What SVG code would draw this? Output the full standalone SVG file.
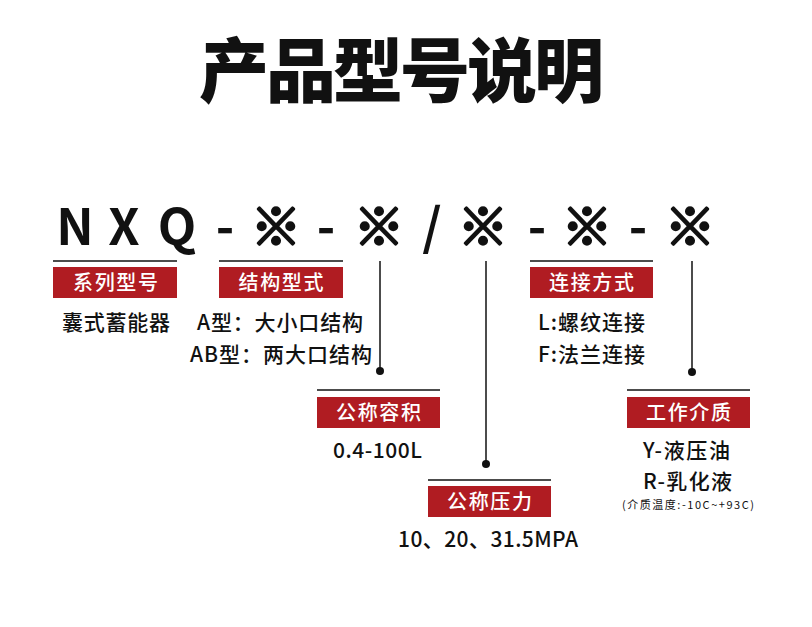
<svg xmlns="http://www.w3.org/2000/svg" width="812" height="627" viewBox="0 0 812 627">
<style>
.t{font-family:"Noto Sans CJK SC","Noto Sans",sans-serif;fill:#111}
.title{font-size:70px;font-weight:900;letter-spacing:-3px}
.code{font-size:50px;font-weight:700;text-anchor:middle}
.mark{font-size:50px;font-weight:900;text-anchor:middle;stroke:#111;stroke-width:2.6px;stroke-linejoin:round}
.lab{font-family:"Noto Sans CJK SC","Noto Sans",sans-serif;font-size:20px;fill:#fff;font-weight:500}
.body{font-size:21px;font-weight:500}
.small{font-size:11px}
.box{fill:#b01c22}
.rule{stroke:#111;stroke-width:1.5}
.conn{stroke:#111;stroke-width:1.5;fill:none}
.dot{fill:#111}
</style>
<rect width="812" height="627" fill="#fff"/>
<text class="t title" x="400" y="97" text-anchor="middle">产品型号说明</text>
<g id="code">
<text class="t code" x="75" y="245">N</text>
<text class="t code" x="124" y="245">X</text>
<text class="t code" x="177" y="245">Q</text>
<text class="t code" x="225" y="245">-</text>
<text class="t mark" x="276" y="245">※</text>
<text class="t code" x="326" y="245">-</text>
<text class="t mark" x="379" y="245">※</text>
<text class="t code" x="432" y="245">/</text>
<text class="t mark" x="483" y="245">※</text>
<text class="t code" x="537" y="245">-</text>
<text class="t mark" x="587" y="245">※</text>
<text class="t code" x="638" y="245">-</text>
<text class="t mark" x="690" y="245">※</text>
</g>
<g id="connectors">
<line class="conn" x1="380" y1="261" x2="380" y2="371"/>
<circle class="dot" cx="380" cy="371" r="4"/>
<line class="conn" x1="486" y1="261" x2="486" y2="464"/>
<circle class="dot" cx="486" cy="464" r="4"/>
<line class="conn" x1="692" y1="261" x2="692" y2="372"/>
<circle class="dot" cx="692" cy="372" r="4"/>
</g>
<g id="series">
<line class="rule" x1="53" y1="261" x2="177" y2="261"/>
<rect class="box" x="53" y="267" width="124" height="31"/>
<text class="lab" x="73" y="290" textLength="85" lengthAdjust="spacing">系列型号</text>
<text class="t body" x="62" y="330" textLength="108" lengthAdjust="spacing">囊式蓄能器</text>
</g>
<g id="structure">
<line class="rule" x1="219" y1="261" x2="343" y2="261"/>
<rect class="box" x="219" y="267" width="124" height="31"/>
<text class="lab" x="238.5" y="290" textLength="85" lengthAdjust="spacing">结构型式</text>
<text class="t body" x="197" y="330" textLength="166" lengthAdjust="spacing">A型：大小口结构</text>
<text class="t body" x="190" y="362" textLength="182" lengthAdjust="spacing">AB型：两大口结构</text>
</g>
<g id="connection">
<line class="rule" x1="530" y1="261" x2="653" y2="261"/>
<rect class="box" x="530" y="267" width="123" height="31"/>
<text class="lab" x="549" y="290" textLength="85" lengthAdjust="spacing">连接方式</text>
<text class="t body" x="538" y="330" textLength="107" lengthAdjust="spacing">L:螺纹连接</text>
<text class="t body" x="538" y="362" textLength="107" lengthAdjust="spacing">F:法兰连接</text>
</g>
<g id="volume">
<line class="rule" x1="317" y1="390" x2="440" y2="390"/>
<rect class="box" x="317" y="397" width="123" height="31"/>
<text class="lab" x="336" y="420" textLength="85" lengthAdjust="spacing">公称容积</text>
<text class="t body" x="333" y="458" textLength="89" lengthAdjust="spacing">0.4-100L</text>
</g>
<g id="pressure">
<line class="rule" x1="428" y1="480" x2="551" y2="480"/>
<rect class="box" x="428" y="486" width="123" height="31"/>
<text class="lab" x="447" y="509" textLength="85" lengthAdjust="spacing">公称压力</text>
<text class="t body" x="398" y="547" textLength="180" lengthAdjust="spacing">10、20、31.5MPA</text>
</g>
<g id="medium">
<line class="rule" x1="627" y1="390" x2="750" y2="390"/>
<rect class="box" x="627" y="397" width="123" height="31"/>
<text class="lab" x="646" y="420" textLength="85" lengthAdjust="spacing">工作介质</text>
<text class="t body" x="643" y="458" textLength="87" lengthAdjust="spacing">Y-液压油</text>
<text class="t body" x="643" y="489" textLength="89" lengthAdjust="spacing">R-乳化液</text>
<text class="t small" x="622" y="509" textLength="132" lengthAdjust="spacing">(介质温度:-10C~+93C)</text>
</g>
</svg>
